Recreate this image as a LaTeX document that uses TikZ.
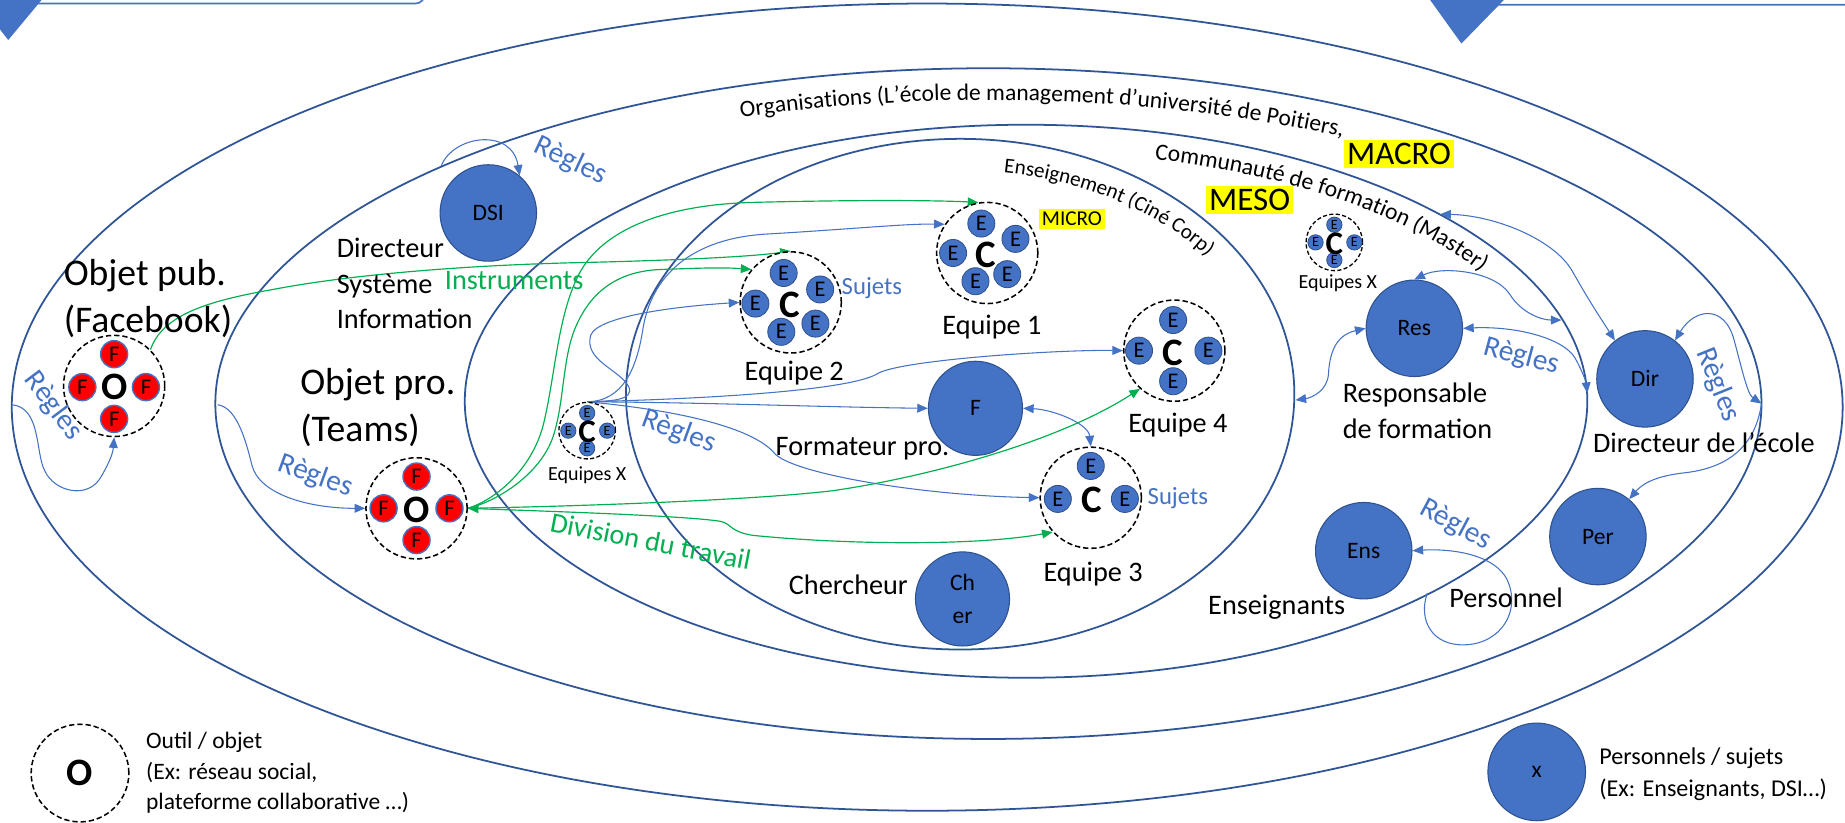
\documentclass[tikz,border=0pt]{standalone}
\usepackage{fontspec}
\setmainfont{Carlito}
\usetikzlibrary{arrows.meta,decorations.text,calc}
\definecolor{ellc}{HTML}{2F5597}
\definecolor{pblue}{HTML}{4472C4}
\definecolor{pborder}{HTML}{2F528F}
\definecolor{gr}{HTML}{00B050}
\definecolor{hlyel}{HTML}{FFFF00}
\newcommand\myfs[2]{\fontsize{#1}{#2}\selectfont}
\newcommand\orgfont{\fontsize{20}{24}\selectfont}
\newcommand\comfont{\fontsize{20}{24}\selectfont}
\newcommand\ensfont{\fontsize{18}{22}\selectfont}
\pgfdeclarelayer{bg}
\pgfsetlayers{bg,main}
\tikzset{
 ellline/.style={draw=ellc, line width=1.5pt},
 clus/.style={circle, draw=black, fill=white, dash pattern=on 4.5pt off 2.5pt, line width=1.3pt, minimum size=86pt, inner sep=0pt},
 sclus/.style={clus, minimum size=48pt, line width=1.1pt, dash pattern=on 3.5pt off 2pt},
 ecirc/.style={circle, fill=pblue, draw=pborder, line width=0.7pt, minimum size=23pt, inner sep=0pt, font=\myfs{19}{19}},
 secirc/.style={ecirc, minimum size=13pt, font=\myfs{12}{12}},
 fcirc/.style={circle, fill=red, draw=pblue, line width=1.2pt, minimum size=23pt, inner sep=0pt, font=\myfs{19}{19}},
 cbig/.style={inner sep=0pt, font=\myfs{33}{33}\bfseries},
 csmall/.style={inner sep=0pt, font=\myfs{28}{28}\bfseries},
 person/.style={circle, fill=pblue, draw=pborder, line width=0.9pt, minimum size=82pt, inner sep=0pt, align=center, font=\myfs{20}{28}},
 lab/.style={inner sep=0pt, align=left, font=\myfs{24}{30}},
 biglab/.style={inner sep=0pt, align=left, font=\myfs{32}{40}},
 smalllab/.style={inner sep=0pt, font=\myfs{17}{20}},
 regles/.style={inner sep=0pt, text=pblue, font=\myfs{25}{25}},
 sujets/.style={inner sep=0pt, text=pblue, font=\myfs{21}{21}},
 hlbox/.style={fill=hlyel, inner sep=2.5pt},
 bar/.style={draw=pblue, line width=0.9pt, -{Triangle[length=9pt,width=7.5pt]}},
 bard/.style={draw=pblue, line width=0.9pt, {Triangle[length=9pt,width=7.5pt]}-{Triangle[length=9pt,width=7.5pt]}},
 gar/.style={draw=gr, line width=1pt, -{Triangle[length=9pt,width=7.5pt]}},
 gard/.style={draw=gr, line width=1pt, {Triangle[length=9pt,width=7.5pt]}-{Triangle[length=9pt,width=7.5pt]}},
}
\begin{document}
\begin{tikzpicture}[x=1pt,y=-1pt]
\useasboundingbox (0,0) rectangle (1568,699);

% ---------- nodes ----------
% Facebook object
\node[clus] (fbO) at (97,328) {};
\node[fcirc] (fbT) at (97,301) {F};
\node[fcirc] (fbLf) at (70,329) {F};
\node[fcirc] (fbR) at (124,329) {F};
\node[fcirc] (fbB) at (97,356) {F};
\node[cbig] (fbC) at (97,329) {O};
% Teams object
\node[clus] (tmO) at (354,432) {};
\node[fcirc] (tmT) at (354,405) {F};
\node[fcirc] (tmLf) at (326,432) {F};
\node[fcirc] (tmR) at (382,432) {F};
\node[fcirc] (tmB) at (354,459) {F};
\node[cbig] (tmC) at (354,433) {O};
% Equipe 1
\node[clus] (eq1) at (839,215) {};
\node[ecirc] (eq1a) at (834,190) {E};
\node[ecirc] (eq1b) at (863,203) {E};
\node[ecirc] (eq1c) at (810,215) {E};
\node[ecirc] (eq1d) at (856,233) {E};
\node[ecirc] (eq1e) at (829,239) {E};
\node[cbig] (eq1C) at (838,217) {C};
% Equipe 2
\node[clus] (eq2) at (672,257) {};
\node[ecirc] (eq2a) at (666,232) {E};
\node[ecirc] (eq2b) at (697,246) {E};
\node[ecirc] (eq2c) at (642,258) {E};
\node[ecirc] (eq2d) at (693,275) {E};
\node[ecirc] (eq2e) at (664,282) {E};
\node[cbig] (eq2C) at (671,259) {C};
% Equipe 4
\node[clus] (eq4) at (998,298) {};
\node[ecirc] (eq4a) at (997,272) {E};
\node[ecirc] (eq4b) at (968,298) {E};
\node[ecirc] (eq4c) at (1027,298) {E};
\node[ecirc] (eq4d) at (997,324) {E};
\node[cbig] (eq4C) at (997,300) {C};
% Equipe 3
\node[clus] (eq3) at (927,423) {};
\node[ecirc] (eq3a) at (927,396) {E};
\node[ecirc] (eq3b) at (899,424) {E};
\node[ecirc] (eq3c) at (956,424) {E};
\node[cbig] (eq3C) at (928,425) {C};
% Equipes X (left)
\node[sclus] (exA) at (499,366) {};
\node[secirc] (exAa) at (499,351) {E};
\node[secirc] (exAb) at (483,366) {E};
\node[secirc] (exAc) at (516,366) {E};
\node[secirc] (exAd) at (499,381) {E};
\node[csmall] (exAC) at (499,367) {C};
% Equipes X (right)
\node[sclus] (exB) at (1134,206) {};
\node[secirc] (exBa) at (1134,191) {E};
\node[secirc] (exBb) at (1118,206) {E};
\node[secirc] (exBc) at (1151,206) {E};
\node[secirc] (exBd) at (1134,221) {E};
\node[csmall] (exBC) at (1134,207) {C};
% persons
\node[person] (dsi) at (415,181) {DSI};
\node[person, minimum size=80pt] (F) at (829,347) {F};
\node[person, minimum size=80pt] (cher) at (818,509) {Ch\\er};
\node[person] (res) at (1202,279) {Res};
\node[person] (dir) at (1398,322) {Dir};
\node[person] (per) at (1358,456) {Per};
\node[person] (ens) at (1159,468) {Ens};
% legend
\node[clus, minimum size=83pt] (legO) at (68,657) {};
\node[cbig] (legOC) at (68,657) {O};
\node[anchor=west, align=left, inner sep=0pt, font=\myfs{20}{26}] (legOt) at (124,657) {Outil / objet\\(Ex: réseau social,\\plateforme collaborative …)};
\node[person, minimum size=83pt] (legX) at (1306,656) {x};
\node[anchor=west, align=left, inner sep=0pt, font=\myfs{20.5}{27}] (legXt) at (1359,658) {Personnels / sujets\\(Ex: Enseignants, DSI…)};

% labels
\node[lab, anchor=west] (lDSI) at (286,241) {Directeur\\Système\\Information};
\node[lab, text=gr] (lInstr) at (437,238) {Instruments};
\node[biglab, anchor=west] (lFB) at (54,254) {Objet pub.\\(Facebook)};
\node[biglab, anchor=west] (lTm) at (255,346) {Objet pro.\\(Teams)};
\node[lab] (lF) at (733,381) {Formateur pro.};
\node[lab] (lCh) at (721,497) {Chercheur};
\node[lab] (lE1) at (843,278) {Equipe 1};
\node[lab] (lE2) at (675,317) {Equipe 2};
\node[lab] (lE4) at (1001,361) {Equipe 4};
\node[lab] (lE3) at (929,488) {Equipe 3};
\node[smalllab] (lXa) at (499,404) {Equipes X};
\node[smalllab] (lXb) at (1137,241) {Equipes X};
\node[lab, anchor=west] (lRes) at (1141,349) {Responsable\\de formation};
\node[lab] (lDir) at (1448,376) {Directeur de l’école};
\node[lab] (lEns) at (1085,516) {Enseignants};
\node[lab] (lPer) at (1280,508) {Personnel};
\node[sujets] (sj2) at (741,245) {Sujets};
\node[sujets] (sj3) at (1001,423) {Sujets};
\node[hlbox, font=\myfs{18}{18}] (micro) at (911,186) {MICRO};
\node[hlbox, font=\myfs{28}{28}] (meso) at (1062,170) {MESO};
\node[hlbox, font=\myfs{28}{28}] (macro) at (1189,131) {MACRO};
\node[regles, rotate=-53] (rg1) at (45,345) {Règles};
\node[regles, rotate=-20] (rg2) at (268,405) {Règles};
\node[regles, rotate=-25] (rg3) at (485,137) {Règles};
\node[regles, rotate=-20] (rg4) at (577,367) {Règles};
\node[regles, rotate=-15] (rg5) at (1293,303) {Règles};
\node[regles, rotate=-68] (rg6) at (1460,327) {Règles};
\node[regles, rotate=-28] (rg7) at (1237,446) {Règles};
\node[lab, text=gr, rotate=-11] (ldiv) at (553,460) {Division du travail};

% curved texts
\path[decorate, decoration={text along path, text align=left,
  text={|\orgfont|Organisations (L’école de management d’université de Poitiers,}}]
  (840,343) ++(250.5:630 and 258) arc[start angle=250.5, end angle=310, x radius=630, y radius=258];
\path[decorate, decoration={text along path, text align=left,
  text={|\comfont|Communauté de formation (Master)}}]
  (872,341) ++(284:452 and 212) arc[start angle=284, end angle=345, x radius=452, y radius=212];
\path[decorate, decoration={text along path, text align=left,
  text={|\ensfont|Enseignement (Ciné Corp)}}]
  (816,335) ++(278:266 and 190) arc[start angle=278, end angle=340, x radius=266, y radius=190];

% boundary points
\coordinate (fbL) at (10,344);
\coordinate (tmL) at (185,344);
\coordinate (dsiL) at (375,141);
\coordinate (e4R) at (1101,340);
\coordinate (e3Ra) at (1327,272);
\coordinate (e3Rb) at (1349,334);
\coordinate (e3Rc) at (1224,182);
\coordinate (e2R) at (1497,343);
\coordinate (e3Rd) at (1213,504);

\begin{pgfonlayer}{bg}
\fill[white] (0,0) rectangle (1568,699);
% top decorations
\draw[pblue, line width=1.4pt, rounded corners=8pt] (-40,-60) rectangle (361,3);
\fill[pblue] (-21,-2) -- (37,-2) -- (7,34) -- cycle;
\draw[pblue, line width=1.4pt, rounded corners=8pt] (1262,4) rectangle (1620,-60);
\fill[pblue] (1214,-2) -- (1280,-2) -- (1242,37) -- cycle;
% nested ellipses
\draw[ellline] (788,346) ellipse[x radius=778, y radius=343];
\draw[ellline] (840,343) ellipse[x radius=657, y radius=285];
\draw[ellline] (872,341) ellipse[x radius=477, y radius=235];
\draw[ellline] (816,335) ellipse[x radius=284, y radius=217];

% blue "Règles" connectors
\draw[bar] (fbL) .. controls (35,346) and (30,385) .. (38,400) .. controls (46,418) and (75,425) .. (86,405) .. controls (93,393) and (96,385) .. (fbO.south);
\draw[bar] (tmL) .. controls (200,346) and (208,370) .. (214,395) .. controls (220,420) and (262,432) .. (tmO.west);
\draw[bar] (dsiL) .. controls (385,115) and (435,108) .. (dsi.50);
\draw[bar] (exA.north) .. controls (515,341) and (541,341) .. (534,328) .. controls (526,314) and (496,306) .. (502,285) .. controls (508,268) and (580,260) .. (eq2.west);
\draw[bar] (exA.north) .. controls (530,341) and (541,312) .. (546,282) .. controls (553,232) and (590,203) .. (650,199) .. controls (720,195) and (770,190) .. (eq1.146);
\draw[bar] (exA.north) .. controls (600,342) and (700,346) .. (F.west);
\draw[bar] (exA.north) .. controls (600,339) and (720,332) .. (745,318) .. controls (762,306) and (900,297) .. (eq4.west);
\draw[bar] (exA.north) .. controls (580,349) and (640,364) .. (658,385) .. controls (672,402) and (780,421) .. (eq3.west);
\draw[bard] (F.east) .. controls (895,348) and (925,360) .. (eq3.north);
\draw[bard] (res.west) .. controls (1135,285) and (1130,300) .. (1129,318) .. controls (1128,332) and (1115,338) .. (e4R);
\draw[bard] (res.north) .. controls (1225,226) and (1270,230) .. (1283,250) .. controls (1293,266) and (1310,272) .. (e3Ra);
\draw[bard] (res.east) .. controls (1290,277) and (1330,288) .. (1339,305) .. controls (1345,316) and (1348,325) .. (e3Rb);
\draw[bard] (e3Rc) .. controls (1270,183) and (1320,203) .. (1336,230) .. controls (1350,255) and (1360,270) .. (dir.128);
\draw[bard] (dir.52) .. controls (1440,262) and (1466,258) .. (1474,290) .. controls (1480,312) and (1485,335) .. (e2R);
\draw[bar] (e2R) .. controls (1492,378) and (1470,398) .. (1430,402) .. controls (1405,405) and (1395,412) .. (per.50);
\draw[bar] (e3Rd) .. controls (1205,527) and (1217,549) .. (1245,548) .. controls (1275,547) and (1293,520) .. (1281,493) .. controls (1271,472) and (1236,466) .. (ens.east);

% green connectors
\draw[gar] (fbO.45) .. controls (138,268) and (175,256) .. (232,246) .. controls (300,233) and (400,225) .. (500,223) .. controls (580,221) and (640,218) .. (eq2.north);
\draw[gar] (tmO.east) .. controls (420,425) and (452,400) .. (462,360) .. controls (472,318) and (474,268) .. (492,233) .. controls (512,195) and (565,174) .. (640,172) .. controls (720,170) and (790,170) .. (eq1.100);
\draw[gar] (tmO.east) .. controls (426,425) and (462,400) .. (471,368) .. controls (480,338) and (478,300) .. (491,274) .. controls (506,242) and (532,230) .. (562,229) .. controls (592,228) and (612,227) .. (eq2.140);
\draw[gar] (tmO.east) .. controls (500,430) and (640,425) .. (708,417) .. controls (790,405) and (900,375) .. (eq4.228);
\draw[gard] (tmO.east) .. controls (450,434) and (580,438) .. (612,443) .. controls (622,445) and (620,452) .. (640,455) .. controls (720,463) and (830,464) .. (eq3.222);
\end{pgfonlayer}
\end{tikzpicture}
\end{document}
